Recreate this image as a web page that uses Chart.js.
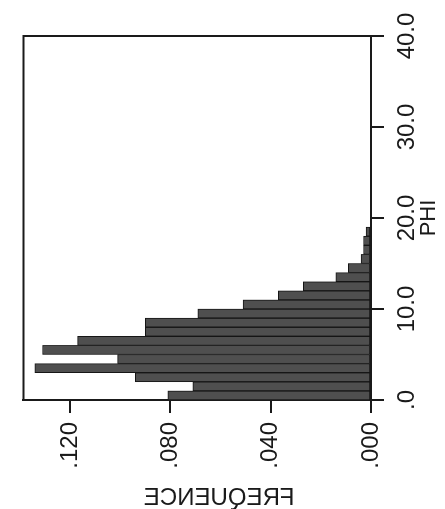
<!DOCTYPE html>
<html>
<head>
<meta charset="utf-8">
<script src="https://cdn.jsdelivr.net/npm/chart.js@4/dist/chart.umd.min.js"></script>
<style>
  html, body { margin: 0; padding: 0; background: #fff; }
  #page { position: relative; width: 445px; height: 509px; overflow: hidden; background: #fff; }
  /* the figure is printed turned a quarter turn, so the chart is drawn upright and rotated */
  #turn { position: absolute; left: -32px; top: 32px; width: 509px; height: 445px; transform: rotate(-90deg); }
</style>
</head>
<body>
<div id="page">
  <div id="turn"><canvas id="hist" width="509" height="445"></canvas></div>
</div>
<script>
// histogram bins of PHI (bin centres, width 1.0)
const phiBins = [0.5, 1.5, 2.5, 3.5, 4.5, 5.5, 6.5, 7.5, 8.5, 9.5,
                 10.5, 11.5, 12.5, 13.5, 14.5, 15.5, 16.5, 17.5, 18.5];
// relative frequency per bin
const frequence = [0.081, 0.071, 0.094, 0.134, 0.101, 0.131, 0.117, 0.090, 0.090, 0.069,
                   0.051, 0.037, 0.027, 0.014, 0.009, 0.004, 0.003, 0.003, 0.002];

const phiTicks = [0, 10, 20, 30, 40];
const phiTickLabels = [".0", "10.0", "20.0", "30.0", "40.0"];
const freqTicks = [0, 0.04, 0.08, 0.12];
const freqTickLabels = [".000", ".040", ".080", ".120"];

const INK = "#1a1a1a";
const FONT = "'Liberation Sans', Arial, sans-serif";

// left and top edges of the plot box (the axes only draw their own side)
const frameBox = {
    id: "frameBox",
    afterDatasetsDraw(chart) {
        const { ctx, chartArea: a } = chart;
        ctx.save();
        ctx.strokeStyle = INK;
        ctx.lineWidth = 2;
        ctx.beginPath();
        ctx.moveTo(a.left, a.top);
        ctx.lineTo(a.right, a.top);
        ctx.lineTo(a.right, a.bottom);
        ctx.stroke();
        ctx.restore();
    }
};

// the FREQUENCE caption comes out mirrored in the print
const mirroredTitle = {
    id: "mirroredTitle",
    afterDraw(chart) {
        const { ctx, chartArea: a } = chart;
        const cx = 11;
        const cy = (a.top + a.bottom) / 2 + 22;
        ctx.save();
        ctx.setTransform(0, -1, -1, 0, cx, cy);
        ctx.font = "24px " + FONT;
        ctx.fillStyle = INK;
        ctx.textAlign = "center";
        ctx.textBaseline = "middle";
        ctx.fillText("FREQUENCE", 0, 0);
        ctx.restore();
    }
};

new Chart(document.getElementById("hist").getContext("2d"), {
    type: "bar",
    data: {
        datasets: [{
            label: "FREQUENCE",
            data: phiBins.map((p, i) => ({ x: p, y: frequence[i] })),
            backgroundColor: "#4f4f4f",
            borderColor: "#151515",
            borderWidth: 1,
            borderSkipped: false,
            barPercentage: 1,
            categoryPercentage: 1,
        }]
    },
    options: {
        responsive: false,
        animation: false,
        layout: { padding: { left: 40, right: 36, top: 14, bottom: 0 } },
        plugins: { legend: { display: false }, tooltip: { enabled: false } },
        scales: {
            x: {
                type: "linear",
                min: 0,
                max: 40,
                offset: false,
                afterBuildTicks: s => { s.ticks = phiTicks.map(v => ({ value: v })); },
                afterFit: s => { s.height = 74; },
                ticks: {
                    autoSkip: false, maxRotation: 0, padding: 9,
                    color: INK, font: { family: FONT, size: 24 },
                    callback: v => phiTickLabels[phiTicks.indexOf(v)]
                },
                grid: { offset: false, drawOnChartArea: false, drawTicks: true, tickLength: 13, color: INK, lineWidth: 2 },
                border: { display: true, color: INK, width: 2 },
                title: { display: true, text: "PHI", color: INK, font: { family: FONT, size: 22, lineHeight: 1 }, padding: { top: 0, bottom: 5 } }
            },
            y: {
                min: 0,
                max: 0.1386,
                afterBuildTicks: s => { s.ticks = freqTicks.map(v => ({ value: v })); },
                afterFit: s => { s.width = 69; },
                ticks: {
                    padding: 9,
                    color: INK, font: { family: FONT, size: 24 },
                    callback: v => freqTickLabels[freqTicks.indexOf(v)]
                },
                grid: { drawOnChartArea: false, drawTicks: true, tickLength: 13, color: INK, lineWidth: 2 },
                border: { display: true, color: INK, width: 2 },
                title: { display: false }
            }
        }
    },
    plugins: [frameBox, mirroredTitle]
});
</script>
</body>
</html>
